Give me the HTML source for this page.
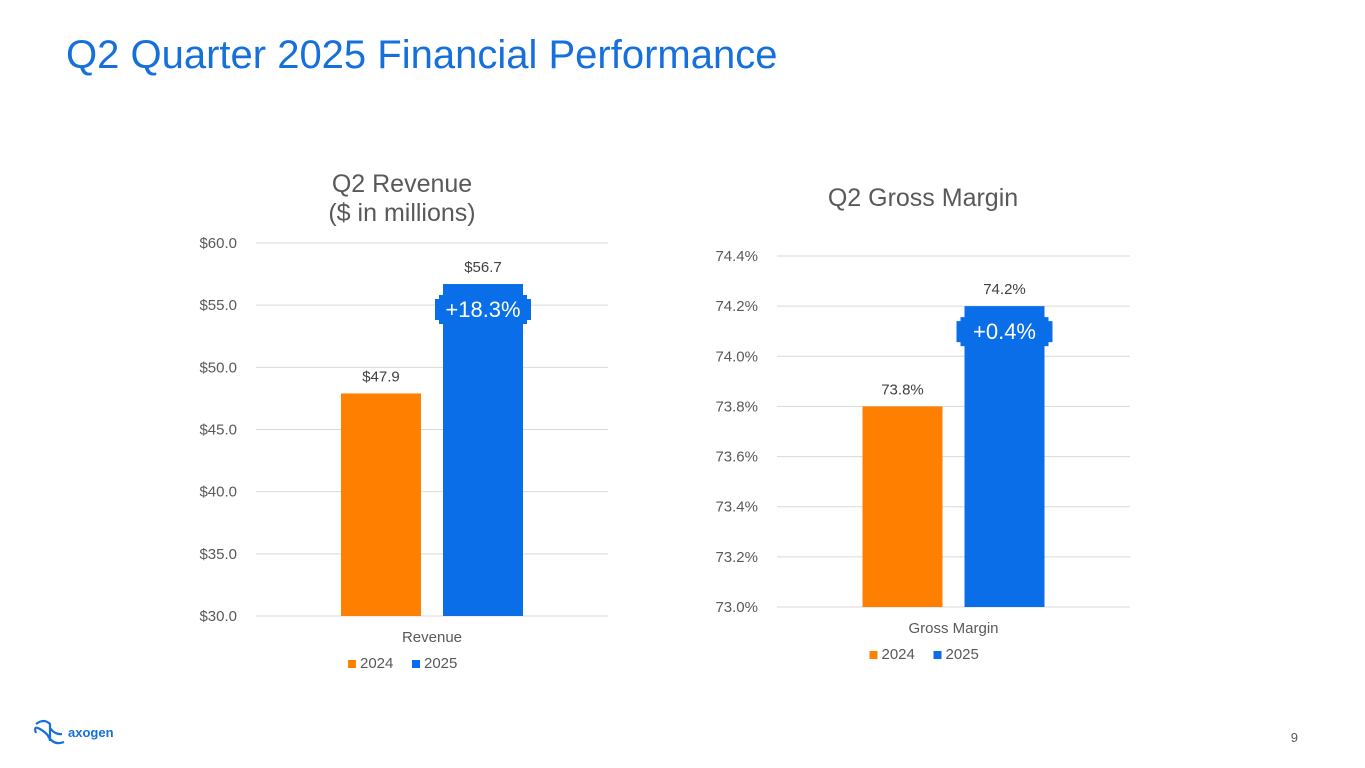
<!DOCTYPE html>
<html><head><meta charset="utf-8">
<style>
html,body{margin:0;padding:0;background:#fff;width:1365px;height:768px;overflow:hidden;font-family:"Liberation Sans",Arial,sans-serif;}
svg text{font-family:"Liberation Sans",Arial,sans-serif;}
</style></head>
<body>
<svg id="root" width="1365" height="768" viewBox="0 0 1365 768" xmlns="http://www.w3.org/2000/svg">
  <text x="66" y="68" font-size="40" fill="#1570dc">Q2 Quarter 2025 Financial Performance</text>
  <text x="402" y="192" font-size="25" fill="#595959" text-anchor="middle">Q2 Revenue</text>
  <text x="402" y="221" font-size="25" fill="#595959" text-anchor="middle">($ in millions)</text>
  <text x="923" y="206" font-size="25" fill="#595959" text-anchor="middle">Q2 Gross Margin</text>
  <g id="c1"></g>
  <g id="c2"></g>
  <g>
    <path d="M36 724 Q44 718 50 724 L50 741 M36 733 Q33 725 40 729 Q50 735 50 741 M50 728 Q55 735 62 734 M48 736 Q54 746 64 742" fill="none" stroke="#1570dc" stroke-width="2.2"/>
    <text x="68" y="737" font-size="13" font-weight="bold" fill="#1570dc">axogen</text>
  </g>
  <text x="1298" y="742" font-size="13" fill="#595959" text-anchor="end">9</text>
</svg>
<script>
const NS="http://www.w3.org/2000/svg";
// Revenue chart data
const revYears=["2024","2025"];
const revValues=[47.9,56.7];
const revLabels=["$47.9","$56.7"];
const revTicks=[30,35,40,45,50,55,60];
const revTickLabels=["$30.0","$35.0","$40.0","$45.0","$50.0","$55.0","$60.0"];
const revCategory="Revenue";
const revChange="+18.3%";
// Gross margin chart data
const gmYears=["2024","2025"];
const gmValues=[73.8,74.2];
const gmLabels=["73.8%","74.2%"];
const gmTicks=[73.0,73.2,73.4,73.6,73.8,74.0,74.2,74.4];
const gmTickLabels=["73.0%","73.2%","73.4%","73.6%","73.8%","74.0%","74.2%","74.4%"];
const gmCategory="Gross Margin";
const gmChange="+0.4%";

const colors=["#ff7f00","#0a6ee8"];
function mk(tag,attrs,parent){const e=document.createElementNS(NS,tag);for(const k in attrs)e.setAttribute(k,attrs[k]);parent.appendChild(e);return e;}

function chart(g,cfg){
  const y=v=>cfg.y0-(v-cfg.min)/(cfg.max-cfg.min)*(cfg.y0-cfg.y1);
  cfg.ticks.forEach((t,i)=>{
    const l=mk("line",{x1:cfg.x0,x2:cfg.x1,y1:y(t),y2:y(t),stroke:"#d9d9d9","stroke-width":1},g);
    
    
    const tx=mk("text",{x:cfg.x0-19,y:y(t)+5,"font-size":15,fill:"#595959","text-anchor":"end"},g);
    tx.textContent=cfg.tickLabels[i];
    
    
  });
  const cx=(cfg.x0+cfg.x1)/2, bw=80, gap=22;
  cfg.values.forEach((v,i)=>{
    const bx=cx-gap/2-bw+i*(bw+gap);
    const r=mk("rect",{x:bx,y:y(v),width:bw,height:y(cfg.min)-y(v),fill:colors[i]},g);
    
    
    const t=mk("text",{x:bx+bw/2,y:y(v)-12,"font-size":15,fill:"#404040","text-anchor":"middle"},g);
    t.textContent=cfg.labels[i];
    
    
    if(i===1){
      const L=bx-8,R=bx+bw+8,T=y(v)+11,B=T+29,n=4;
      const p=mk("polygon",{points:[[L,T+n],[L+n,T+n],[L+n,T],[R-n,T],[R-n,T+n],[R,T+n],[R,B-n],[R-n,B-n],[R-n,B],[L+n,B],[L+n,B-n],[L,B-n]].map(a=>a.join(",")).join(" "),fill:"#0a6ee8"},g);
      
      
      const bt=mk("text",{x:(L+R)/2,y:B-7,"font-size":22,fill:"#fff","text-anchor":"middle"},g);
      bt.textContent=cfg.change;
      
      
    }
  });
  const ct=mk("text",{x:cx,y:cfg.y0+26,"font-size":15,fill:"#595959","text-anchor":"middle"},g);
  ct.textContent=cfg.category;
  
  
  const ly=cfg.y0+52;
  let lx=cx-84;
  cfg.years.forEach((yr,i)=>{
    const sq=mk("rect",{x:lx,y:ly-8,width:8,height:8,fill:colors[i]},g);
    
    
    const lt=mk("text",{x:lx+12,y:ly,"font-size":15,fill:"#595959"},g);
    lt.textContent=yr;
    
    
    lx+=64;
  });
}
chart(document.getElementById("c1"),{x0:256,x1:608,y0:616,y1:243,min:30,max:60,ticks:revTicks,tickLabels:revTickLabels,values:revValues,labels:revLabels,years:revYears,category:revCategory,change:revChange});
chart(document.getElementById("c2"),{x0:777,x1:1130,y0:607,y1:256,min:73.0,max:74.4,ticks:gmTicks,tickLabels:gmTickLabels,values:gmValues,labels:gmLabels,years:gmYears,category:gmCategory,change:gmChange});
</script>
</body></html>
